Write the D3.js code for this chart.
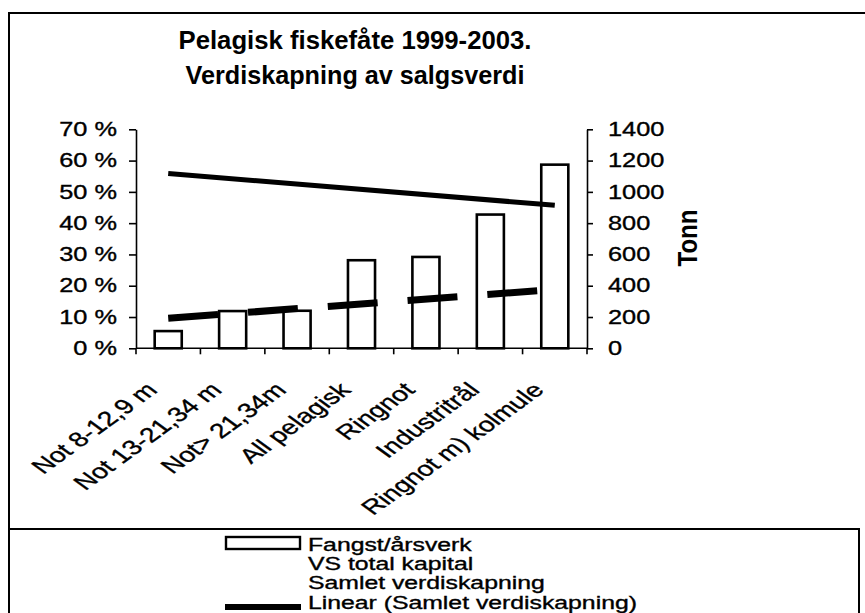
<!DOCTYPE html>
<html>
<head>
<meta charset="utf-8">
<script src="https://cdn.jsdelivr.net/npm/d3@7"></script>
<style>
  body { margin: 0; background: #fff; }
  text { font-family: "Liberation Sans", Arial, sans-serif; fill: #000; }
  .scan { stroke: #000; stroke-width: 0.35px; }
</style>
</head>
<body>
<script>
    //Declare consts/global variables
        const width = 865;
        const height = 613;

    //Data
        const categories = ["Not 8-12,9 m", "Not 13-21,34 m", "Not> 21,34m", "All pelagisk",
                            "Ringnot", "Industritrål", "Ringnot m) kolmule"];
        const fangstPerArsverk = [110, 238, 240, 563, 584, 855, 1174];   // Tonn (right axis)
        const linearVS = [55.9, 45.7];        // trend line, first and last category (%)
        const linearSamlet = [9.6, 18.8];     // trend line, first and last category (%)
        const pctTicks = [0, 10, 20, 30, 40, 50, 60, 70];
        const tonnTicks = [0, 200, 400, 600, 800, 1000, 1200, 1400];
        const titleLines = ["Pelagisk fiskefåte 1999-2003.", "Verdiskapning av salgsverdi"];
        const legendLabels = ["Fangst/årsverk", "VS total kapital", "Samlet verdiskapning",
                              "Linear (Samlet verdiskapning)"];

    //Scales
        const xScale = d3.scaleBand()
                        .domain(categories)
                        .range([136, 587]);

        const yPct = d3.scaleLinear()
                        .domain([0, 70])
                        .range([348.3, 129.3]);

        const yTon = d3.scaleLinear()
                        .domain([0, 1400])
                        .range([348.3, 129.3]);

        const step = xScale.bandwidth();
        const barW = step * 0.42;
        const cx = c => xScale(c) + step / 2;

    //SVG
        const svg = d3.select("body")
                    .append("svg")
                    .attr("width", width)
                    .attr("height", height);

    //Frame (scanned figure box)
        svg.append("rect")
            .attr("x", 9).attr("y", 13)
            .attr("width", 870).attr("height", 640)
            .attr("fill", "none").attr("stroke", "#000").attr("stroke-width", 2);

        svg.append("rect")
            .attr("x", 9).attr("y", 529)
            .attr("width", 850).attr("height", 120)
            .attr("fill", "none").attr("stroke", "#000").attr("stroke-width", 2);

    //Title
        svg.selectAll(".title")
            .data(titleLines)
            .enter()
            .append("text")
            .attr("class", "title")
            .attr("x", 355)
            .attr("y", (d, i) => 49 + i * 35)
            .attr("text-anchor", "middle")
            .attr("font-size", 26)
            .attr("font-weight", "bold")
            .attr("textLength", (d, i) => i === 0 ? 353 : 339)
            .attr("lengthAdjust", "spacingAndGlyphs")
            .text(d => d);

    //Bars
        svg.selectAll(".bar")
            .data(categories)
            .enter()
            .append("rect")
            .attr("class", "bar")
            .attr("x", d => cx(d) - barW / 2)
            .attr("y", (d, i) => yTon(fangstPerArsverk[i]))
            .attr("width", barW)
            .attr("height", (d, i) => yTon(0) - yTon(fangstPerArsverk[i]))
            .attr("fill", "#fff")
            .attr("stroke", "#000")
            .attr("stroke-width", 2.6);

    //Trend lines
        const line = d3.line().x(d => cx(d.c)).y(d => yPct(d.v));
        const ends = vals => [{c: categories[0], v: vals[0]}, {c: categories[categories.length - 1], v: vals[1]}];

        svg.append("path")
            .datum(ends(linearVS))
            .attr("d", line)
            .attr("fill", "none")
            .attr("stroke", "#000")
            .attr("stroke-width", 5);

        svg.append("path")
            .datum(ends(linearSamlet))
            .attr("d", line)
            .attr("fill", "none")
            .attr("stroke", "#000")
            .attr("stroke-width", 7)
            .attr("stroke-dasharray", "50,30");

    //Axes
        const leftAxis = d3.axisLeft(yPct)
                           .tickValues(pctTicks)
                           .tickSize(7)
                           .tickSizeOuter(0)
                           .tickFormat(d => d + " %");

        const rightAxis = d3.axisRight(yTon)
                            .tickValues(tonnTicks)
                            .tickSize(6)
                            .tickSizeOuter(0)
                            .tickFormat(d3.format("d"));

        const gl = svg.append("g")
            .attr("transform", "translate(136,0)")
            .call(leftAxis);
        gl.selectAll("text")
            .attr("x", 0)
            .attr("class", "scan")
            .attr("transform", "translate(-19,0) scale(1.3,1)")
            .attr("font-size", 19.5);

        const gr = svg.append("g")
            .attr("transform", "translate(587,0)")
            .call(rightAxis);
        gr.selectAll("text")
            .attr("x", 0)
            .attr("class", "scan")
            .attr("transform", "translate(21,0) scale(1.3,1)")
            .attr("font-size", 19.5);

        [gl, gr].forEach(g => {
            g.select(".domain").attr("stroke-width", 1.6);
            g.selectAll(".tick line").attr("stroke-width", 1.6);
            g.attr("font-family", null);
        });

        // category axis
        svg.append("line")
            .attr("x1", 136).attr("x2", 587)
            .attr("y1", yPct(0)).attr("y2", yPct(0))
            .attr("stroke", "#000").attr("stroke-width", 1.6);

        svg.selectAll(".xtick")
            .data(categories.map(c => xScale(c)).concat([xScale.range()[1]]))
            .enter()
            .append("line")
            .attr("x1", d => d).attr("x2", d => d)
            .attr("y1", yPct(0)).attr("y2", yPct(0) + 6)
            .attr("stroke", "#000").attr("stroke-width", 1.6);

        svg.selectAll(".xlabel")
            .data(categories)
            .enter()
            .append("text")
            .attr("class", "scan")
            .attr("transform", d => `translate(${cx(d) - 9.5},${yPct(0) + 43}) scale(1.38,1) rotate(-45)`)
            .attr("text-anchor", "end")
            .attr("font-size", 20.5)
            .text(d => d);

        svg.append("text")
            .attr("transform", "translate(697,238) scale(1.15,1) rotate(-90)")
            .attr("text-anchor", "middle")
            .attr("font-size", 24)
            .attr("font-weight", "bold")
            .text("Tonn");

    //Legend
        const lg = svg.append("g");
        lg.selectAll("text")
            .data(legendLabels)
            .enter()
            .append("text")
            .attr("class", "scan")
            .attr("transform", (d, i) => `translate(308,${[551, 570, 589, 609][i]}) scale(1.4,1)`)
            .attr("font-size", 17.7)
            .text(d => d);

        lg.append("rect")
            .attr("x", 226).attr("y", 537)
            .attr("width", 74).attr("height", 12)
            .attr("fill", "#fff").attr("stroke", "#000").attr("stroke-width", 2.4);

        lg.append("line")
            .attr("x1", 225).attr("x2", 301)
            .attr("y1", 607).attr("y2", 607)
            .attr("stroke", "#000").attr("stroke-width", 6);
</script>
</body>
</html>
